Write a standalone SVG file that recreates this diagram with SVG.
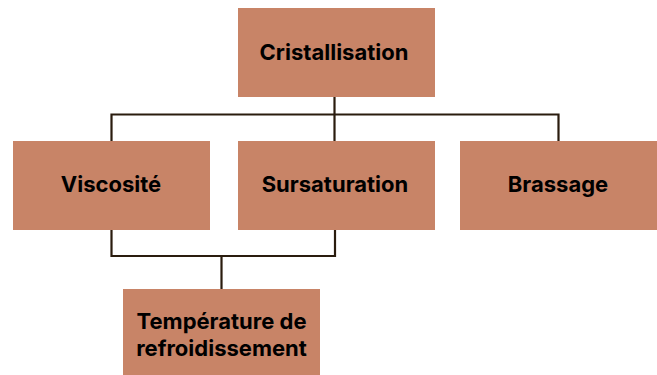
<svg xmlns="http://www.w3.org/2000/svg" width="657" height="375" viewBox="0 0 657 375">
<style>
.box{fill:#C88467;}
.lbl{font-family:Inter,"Liberation Sans",sans-serif;font-weight:700;font-size:22px;fill:#000;text-anchor:middle;}
.con{fill:none;stroke:#2A1C0E;stroke-width:2.2;}
</style>
<rect width="657" height="375" fill="#fff"/>
<g id="connectors">
<path class="con" d="M334.5 97V141"/>
<path class="con" d="M111.5 141V114.5H558.5V141"/>
<path class="con" d="M111.5 230V256H335V230"/>
<path class="con" d="M221.5 256V289"/>
</g>
<g id="cristallisation"><rect class="box" x="238" y="8" width="197" height="89"/><text class="lbl" x="334" y="59.5">Cristallisation</text></g>
<g id="viscosite"><rect class="box" x="13" y="141" width="197" height="89"/><text class="lbl" x="111" y="191.5">Viscosité</text></g>
<g id="sursaturation"><rect class="box" x="238" y="141" width="197" height="89"/><text class="lbl" x="335" y="191.5">Sursaturation</text></g>
<g id="brassage"><rect class="box" x="460" y="141" width="197" height="89"/><text class="lbl" x="558" y="191.5">Brassage</text></g>
<g id="temperature"><rect class="box" x="123" y="289" width="197" height="86"/><text class="lbl" x="221.5" y="328.5">Température de</text><text class="lbl" x="221.5" y="355.5">refroidissement</text></g>
</svg>
